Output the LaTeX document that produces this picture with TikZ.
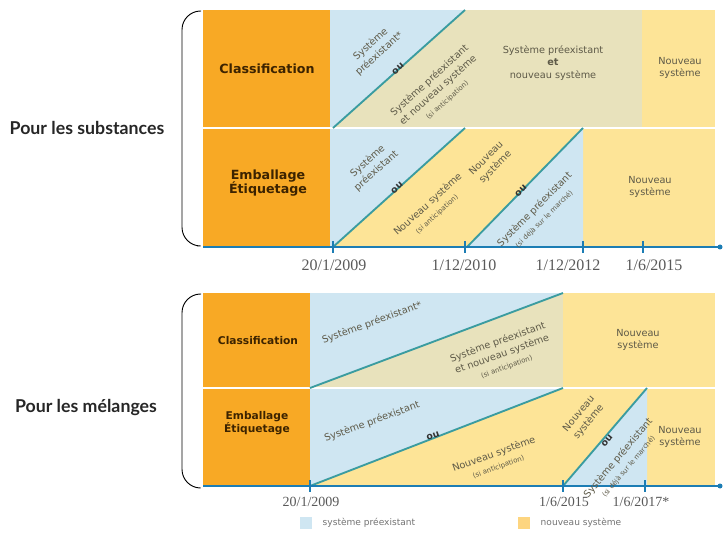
\documentclass[tikz,border=0pt]{standalone}
\usepackage{fontspec}
\setmainfont{DejaVu Sans}
\newfontfamily\labelfont{Lato}
\newfontfamily\datefont{Liberation Serif}
\definecolor{orangecol}{HTML}{F8A925}
\definecolor{bluezone}{HTML}{CFE6F2}
\definecolor{yellowzone}{HTML}{FDE497}
\definecolor{mixzone}{HTML}{E8E2BC}
\definecolor{tealline}{HTML}{3A9CA0}
\definecolor{axisblue}{HTML}{1C7DB4}
\definecolor{zonetext}{HTML}{5E5A48}
\definecolor{rowtext}{HTML}{3C2300}
\newcommand\smallnote[1]{{\fontsize{5.2}{7}\selectfont #1}}
\tikzset{
  rowlabel/.style={font=\bfseries\fontsize{9.5}{11}\selectfont, text=rowtext, align=center},
  zonelabel/.style={font=\fontsize{7.3}{9.6}\selectfont, text=zonetext, align=center, inner sep=0pt},
  orlabel/.style={font=\bfseries\fontsize{7}{8}\selectfont, text=black!80, inner sep=0pt},
  datelabel/.style={font=\datefont\fontsize{12}{14}\selectfont, text=black!65},
  diag/.style={draw=tealline, line width=1.4pt},
  timeaxis/.style={draw=axisblue, line width=2pt},
  tick/.style={draw=axisblue, line width=0.8pt}
}
\begin{document}
\begin{tikzpicture}[x=0.75pt, y=-0.75pt]
    \useasboundingbox (0,0) rectangle (725,538);

    % Substances: zones
    \fill[orangecol] (203,10) rectangle (330,247);
    \fill[bluezone] (330,10) rectangle (465,247);
    \fill[mixzone] (333,128) -- (465,10) -- (465,128) -- cycle;
    \fill[yellowzone] (333,247) -- (465,128) -- (465,247) -- cycle;
    \fill[mixzone] (465,10) rectangle (642,128);
    \fill[yellowzone] (642,10) rectangle (715,128);
    \fill[yellowzone] (465,128) rectangle (715,247);
    \fill[bluezone] (467,247) -- (583,128) -- (583,247) -- cycle;
    \draw[white, line width=0.8pt] (203,128) -- (715,128);

    % Substances: diagonals
    \coordinate (s1a) at (333,128);
    \coordinate (s1b) at (465,10);
    \coordinate (s2a) at (333,247);
    \coordinate (s2b) at (465,128);
    \coordinate (s3a) at (467,247);
    \coordinate (s3b) at (583,128);
    \draw[diag] (s1a) -- (s1b);
    \draw[diag] (s2a) -- (s2b);
    \draw[diag] (s3a) -- (s3b);

    % Substances: axis
    \coordinate (saxL) at (203,247);
    \coordinate (saxR) at (720,247);
    \draw[timeaxis] (saxL) -- (saxR);
    \fill[axisblue] (saxR) circle (2.5);
    \foreach \x in {333,465,583,643}
        \draw[tick] (\x,241) -- (\x,253);

    % Substances: labels
    \node[rowlabel] (sclass) at (267,69) {Classification};
    \node[rowlabel] (semb) at (268,183) {Emballage\\Étiquetage};
    \node[zonelabel, rotate=42] (sc1) at (375,49) {Système\\préexistant*};
    \node[orlabel, rotate=42] (sc2) at (398,69) {ou};
    \node[zonelabel, rotate=42] (sc3) at (438,90) {Système préexistant\\et nouveau système\\\smallnote{(si anticipation)}};
    \node[zonelabel] (sc4) at (553,63) {Système préexistant\\{\bfseries et}\\nouveau système};
    \node[zonelabel] (sc5) at (680,68) {Nouveau\\système};
    \node[zonelabel, rotate=42] (se1) at (372,166) {Système\\préexistant};
    \node[orlabel, rotate=42] (se2) at (397,188) {ou};
    \node[zonelabel, rotate=42] (se3) at (432,209) {Nouveau système\\\smallnote{(si anticipation)}};
    \node[zonelabel, rotate=45] (se4) at (491,163) {Nouveau\\système};
    \node[orlabel, rotate=45] (se5) at (521,191) {ou};
    \node[zonelabel, rotate=45] (se6) at (539,214) {Système préexistant\\\smallnote{(si déjà sur le marché)}};
    \node[zonelabel] (se7) at (650,187) {Nouveau\\système};

    \node[datelabel] (sd1) at (334,265) {20/1/2009};
    \node[datelabel] (sd2) at (464,265) {1/12/2010};
    \node[datelabel] (sd3) at (568,265) {1/12/2012};
    \node[datelabel] (sd4) at (654,265) {1/6/2015};

    % Mixtures: zones
    \fill[orangecol] (203,293) rectangle (310,486);
    \fill[bluezone] (310,293) rectangle (563,486);
    \fill[mixzone] (310,388) -- (563,293) -- (563,388) -- cycle;
    \fill[yellowzone] (310,486) -- (563,388) -- (563,486) -- cycle;
    \fill[yellowzone] (563,293) rectangle (715,486);
    \fill[bluezone] (563,486) -- (647,388) -- (647,486) -- cycle;
    \draw[white, line width=0.8pt] (203,388) -- (715,388);

    % Mixtures: diagonals
    \coordinate (m1a) at (310,388);
    \coordinate (m1b) at (563,293);
    \coordinate (m2a) at (310,486);
    \coordinate (m2b) at (563,388);
    \coordinate (m3a) at (563,486);
    \coordinate (m3b) at (647,388);
    \draw[diag] (m1a) -- (m1b);
    \draw[diag] (m2a) -- (m2b);
    \draw[diag] (m3a) -- (m3b);

    % Mixtures: axis
    \coordinate (maxL) at (203,486);
    \coordinate (maxR) at (720,486);
    \draw[timeaxis] (maxL) -- (maxR);
    \fill[axisblue] (maxR) circle (2.5);
    \foreach \x in {310,563,645}
        \draw[tick] (\x,480) -- (\x,492);

    % Mixtures: labels
    \node[rowlabel, font=\bfseries\fontsize{8}{9.5}\selectfont] (mclass) at (258,341) {Classification};
    \node[rowlabel, font=\bfseries\fontsize{8}{9.5}\selectfont] (memb) at (257,423) {Emballage\\Étiquetage};
    \node[zonelabel, rotate=20] (mc1) at (372,323) {Système préexistant*};
    \node[zonelabel, rotate=20] (mc2) at (502,354) {Système préexistant\\et nouveau système\\\smallnote{(si anticipation)}};
    \node[zonelabel] (mc3) at (638,340) {Nouveau\\système};
    \node[zonelabel, rotate=20] (me1) at (372,422) {Système préexistant};
    \node[orlabel, rotate=20] (me2) at (433,436) {ou};
    \node[zonelabel, rotate=20] (me3) at (496,460) {Nouveau système\\\smallnote{(si anticipation)}};
    \node[zonelabel, rotate=50] (me4) at (584,418) {Nouveau\\système};
    \node[orlabel, rotate=50] (me5) at (607,441) {ou};
    \node[zonelabel, rotate=50] (me6) at (623,462) {Système préexistant\\\smallnote{(si déjà sur le marché)}};
    \node[zonelabel] (me7) at (680,437) {Nouveau\\système};

    \node[datelabel, font=\datefont\fontsize{10.5}{12}\selectfont] (md1) at (311,502) {20/1/2009};
    \node[datelabel, font=\datefont\fontsize{10.5}{12}\selectfont] (md2) at (564,502) {1/6/2015};
    \node[datelabel, font=\datefont\fontsize{10.5}{12}\selectfont] (md3) at (641,502) {1/6/2017*};

    % Legend
    \fill[bluezone] (300,517) rectangle (312,529);
    \node[anchor=west, font=\fontsize{6.8}{8}\selectfont, text=black!55] (legold) at (318,523) {système préexistant};
    \fill[yellowzone!85!orange] (518,517) rectangle (530,529);
    \node[anchor=west, font=\fontsize{6.8}{8}\selectfont, text=black!55] (legnew) at (536,523) {nouveau système};

    % Braces and group labels
    \draw[line width=0.7pt, rounded corners=14] (201,11) -- (182,11) -- (182,246) -- (197,246);
    \draw[line width=0.7pt, rounded corners=14] (201,294) -- (182,294) -- (182,488) -- (200,488);
    \node[font=\labelfont\bfseries\fontsize{13.3}{15}\selectfont, text=black!85] (subs) at (87,128) {Pour les substances};
    \node[font=\labelfont\bfseries\fontsize{13.3}{15}\selectfont, text=black!85] (mel) at (86,408) {Pour les mélanges};
\end{tikzpicture}
\end{document}
